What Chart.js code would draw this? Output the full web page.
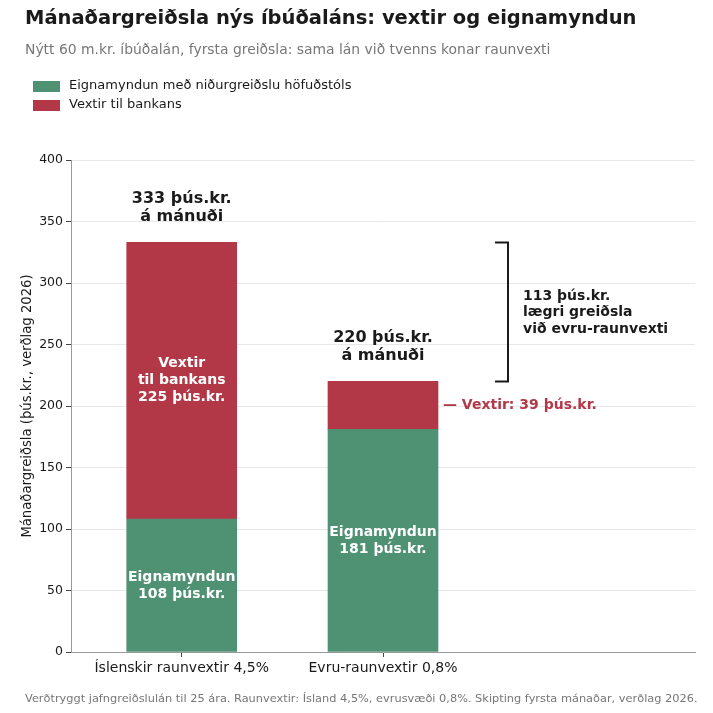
<!DOCTYPE html>
<html>
<head>
<meta charset="utf-8">
<script src="https://cdn.jsdelivr.net/npm/chart.js@4.4.1/dist/chart.umd.min.js"></script>
<style>
  html, body { margin: 0; padding: 0; background: #fff; }
  #wrap { width: 713px; height: 713px; position: relative; }
</style>
</head>
<body>
<div id="wrap"><canvas id="chart" width="713" height="713"></canvas></div>
<script>
// Data
const categories = ['Íslenskir raunvextir 4,5%', 'Evru-raunvextir 0,8%'];
const equity = [108, 181];     // Eignamyndun (þús.kr.)
const interest = [225, 39];    // Vextir (þús.kr.)
const yTicks = [0, 50, 100, 150, 200, 250, 300, 350, 400];

const GREEN = '#4f9273';
const RED = '#b23848';
const FONT = "'DejaVu Sans', sans-serif";

const totals = equity.map((v, i) => v + interest[i]);
const diff = totals[0] - totals[1];

// Text and annotations drawn on top of the chart
const decorations = {
    id: 'decorations',
    afterDraw(chart) {
        const c = chart.ctx;
        const x = chart.scales.x;
        const y = chart.scales.y;
        c.save();

        // Title + subtitle
        c.textBaseline = 'middle';
        c.textAlign = 'left';
        c.fillStyle = '#1a1a1a';
        c.font = 'bold 19.5px ' + FONT;
        c.fillText('Mánaðargreiðsla nýs íbúðaláns: vextir og eignamyndun', 25, 19);
        c.fillStyle = '#777';
        c.font = '13.9px ' + FONT;
        c.fillText('Nýtt 60 m.kr. íbúðalán, fyrsta greiðsla: sama lán við tvenns konar raunvexti', 25, 50);

        // Legend
        const legend = [
            [GREEN, 'Eignamyndun með niðurgreiðslu höfuðstóls', 86],
            [RED, 'Vextir til bankans', 105]
        ];
        c.font = '13px ' + FONT;
        legend.forEach(([col, label, ly]) => {
            c.fillStyle = col;
            c.fillRect(33, ly - 5, 27, 11);
            c.fillStyle = '#1a1a1a';
            c.fillText(label, 69, ly);
        });

        // Y axis title
        c.save();
        c.translate(28, (y.top + y.bottom) / 2);
        c.rotate(-Math.PI / 2);
        c.textAlign = 'center';
        c.font = '13.2px ' + FONT;
        c.fillStyle = '#1a1a1a';
        c.fillText('Mánaðargreiðsla (þús.kr., verðlag 2026)', 0, 0);
        c.restore();

        // Labels inside the bars
        c.textAlign = 'center';
        c.fillStyle = '#fff';
        c.font = 'bold 14px ' + FONT;
        const lh = 17;
        const block = (lines, cx, cy) => {
            const start = cy - (lines.length - 1) * lh / 2;
            lines.forEach((t, k) => c.fillText(t, cx, start + k * lh));
        };
        const cx0 = x.getPixelForValue(0);
        const cx1 = x.getPixelForValue(1);
        block(['Eignamyndun', equity[0] + ' þús.kr.'], cx0, y.getPixelForValue(equity[0] / 2));
        block(['Vextir', 'til bankans', interest[0] + ' þús.kr.'], cx0, y.getPixelForValue(equity[0] + interest[0] / 2));
        block(['Eignamyndun', equity[1] + ' þús.kr.'], cx1, y.getPixelForValue(equity[1] / 2));

        // Totals above the bars
        c.fillStyle = '#1a1a1a';
        c.font = 'bold 16px ' + FONT;
        const lh2 = 18;
        [cx0, cx1].forEach((cx, i) => {
            const top = y.getPixelForValue(totals[i]);
            c.fillText(totals[i] + ' þús.kr.', cx, top - 44);
            c.fillText('á mánuði', cx, top - 44 + lh2);
        });

        // Interest callout for the small bar
        c.textAlign = 'left';
        c.fillStyle = RED;
        c.font = 'bold 14px ' + FONT;
        c.fillText('— Vextir: ' + interest[1] + ' þús.kr.', 443, y.getPixelForValue(equity[1] + interest[1] / 2));

        // Bracket showing the difference
        const bx = 508;
        const yTop = y.getPixelForValue(totals[0]);
        const yBot = y.getPixelForValue(totals[1]);
        c.strokeStyle = '#1a1a1a';
        c.lineWidth = 2;
        c.beginPath();
        c.moveTo(bx - 13, yTop);
        c.lineTo(bx, yTop);
        c.lineTo(bx, yBot);
        c.lineTo(bx - 13, yBot);
        c.stroke();
        c.fillStyle = '#1a1a1a';
        c.font = 'bold 14px ' + FONT;
        const mid = (yTop + yBot) / 2;
        [diff + ' þús.kr.', 'lægri greiðsla', 'við evru-raunvexti'].forEach((t, k) => {
            c.fillText(t, 523, mid - 16 + k * 16.5);
        });

        // Footer
        c.fillStyle = '#777';
        c.font = '11.35px ' + FONT;
        c.fillText('Verðtryggt jafngreiðslulán til 25 ára. Raunvextir: Ísland 4,5%, evrusvæði 0,8%. Skipting fyrsta mánaðar, verðlag 2026.', 25, 699);

        c.restore();
    }
};

const ctx = document.getElementById('chart').getContext('2d');
Chart.defaults.font.family = FONT;
Chart.defaults.color = '#1a1a1a';

new Chart(ctx, {
    type: 'bar',
    data: {
        datasets: [{
            label: 'Eignamyndun með niðurgreiðslu höfuðstóls',
            data: equity.map((v, i) => ({ x: i, y: v })),
            backgroundColor: GREEN,
            barThickness: 110
        }, {
            label: 'Vextir til bankans',
            data: interest.map((v, i) => ({ x: i, y: v })),
            backgroundColor: RED,
            barThickness: 110
        }]
    },
    options: {
        responsive: false,
        animation: false,
        devicePixelRatio: 1,
        layout: { padding: { left: 0, right: 18, top: 160, bottom: 0 } },
        plugins: {
            legend: { display: false },
            title: { display: false },
            tooltip: { enabled: false }
        },
        scales: {
            x: {
                type: 'linear',
                stacked: true,
                offset: false,
                min: -0.55,
                max: 2.55,
                afterBuildTicks: (s) => { s.ticks = [{ value: 0 }, { value: 1 }]; },
                afterFit: (s) => { s.height = 61; },
                grid: { drawOnChartArea: false, offset: false, tickLength: 5, tickColor: '#444' },
                border: { color: '#999', width: 1 },
                ticks: {
                    padding: 3,
                    font: { size: 14 },
                    color: '#1a1a1a',
                    callback: (v) => categories[v] || ''
                }
            },
            y: {
                stacked: true,
                min: 0,
                max: 400,
                afterBuildTicks: (s) => { s.ticks = yTicks.map(v => ({ value: v })); },
                afterFit: (s) => { s.width = 71; },
                grid: { color: '#e8e8e8', tickLength: 5, tickColor: '#444' },
                border: { color: '#999', width: 1 },
                ticks: { padding: 3, font: { size: 12.5 }, color: '#1a1a1a' }
            }
        }
    },
    plugins: [decorations]
});
</script>
</body>
</html>
